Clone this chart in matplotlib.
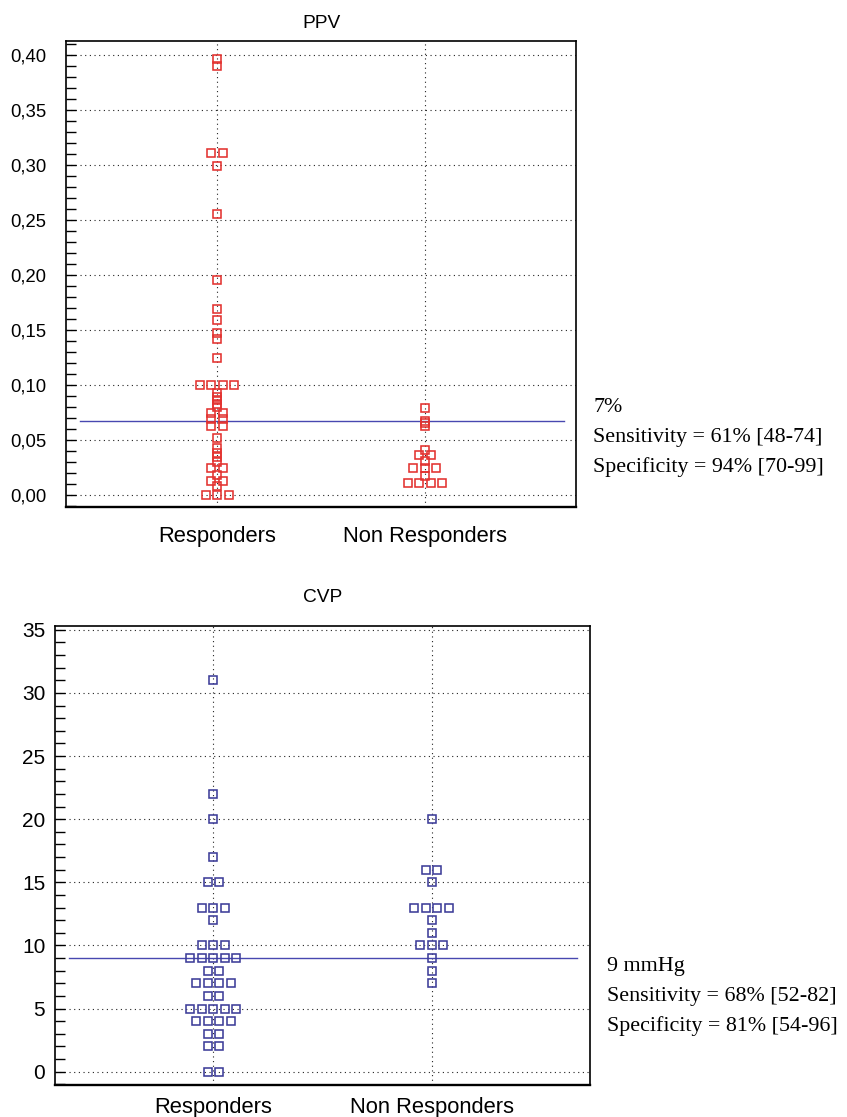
import matplotlib
matplotlib.use("Agg")
import matplotlib.pyplot as plt
from matplotlib.ticker import MultipleLocator, FixedLocator, FixedFormatter
from collections import Counter

# ---------------- data ----------------
groups = ["Responders", "Non Responders"]

ppv_resp = [0.396, 0.390, 0.311, 0.311, 0.299, 0.255, 0.195, 0.169, 0.159,
            0.147, 0.142, 0.124, 0.100, 0.100, 0.100, 0.100, 0.093, 0.089,
            0.086, 0.083, 0.080, 0.074, 0.074, 0.069, 0.069, 0.063, 0.063,
            0.052, 0.043, 0.038, 0.034, 0.030, 0.024, 0.024, 0.018, 0.013,
            0.013, 0.008, 0.000, 0.000, 0.000]
ppv_nonresp = [0.079, 0.067, 0.065, 0.063, 0.041, 0.036, 0.036, 0.031,
               0.024, 0.024, 0.024, 0.017, 0.011, 0.011, 0.011, 0.011]
ppv_cutoff = 0.067
ppv_ticks = [0.00, 0.05, 0.10, 0.15, 0.20, 0.25, 0.30, 0.35, 0.40]
ppv_tick_labels = ["0,00", "0,05", "0,10", "0,15", "0,20", "0,25", "0,30", "0,35", "0,40"]
ppv_text = ["7%", "Sensitivity = 61% [48-74]", "Specificity = 94% [70-99]"]

cvp_resp = [0, 0, 2, 2, 3, 3, 4, 4, 4, 4, 5, 5, 5, 5, 5, 6, 6, 7, 7, 7, 7,
            8, 8, 9, 9, 9, 9, 9, 10, 10, 10, 12, 13, 13, 13, 15, 15, 17, 20, 22, 31]
cvp_nonresp = [7, 8, 9, 10, 10, 10, 11, 12, 13, 13, 13, 13, 15, 16, 16, 20]
cvp_cutoff = 9
cvp_ticks = [0, 5, 10, 15, 20, 25, 30, 35]
cvp_tick_labels = ["0", "5", "10", "15", "20", "25", "30", "35"]
cvp_text = ["9 mmHg", "Sensitivity = 68% [52-82]", "Specificity = 81% [54-96]"]

# ---------------- figure ----------------
W, H = 847, 1117
fig = plt.figure(figsize=(W / 100, H / 100), dpi=100)
plt.rcParams['font.family'] = ['Liberation Sans', 'DejaVu Sans']

def rect(l, r, t, b):
    return [l / W, 1 - b / H, (r - l) / W, (b - t) / H]

XLIM = (0.273, 2.727)
SPACING_PX = 11.5


def swarm(vals, center, ax_width_px):
    per_px = (XLIM[1] - XLIM[0]) / ax_width_px
    cnt = Counter(vals)
    xs, ys = [], []
    for v, n in cnt.items():
        for i in range(n):
            xs.append(center + (i - (n - 1) / 2) * SPACING_PX * per_px)
            ys.append(v)
    return xs, ys


def panel(r, title, resp, nonresp, cutoff, ylim, ticks, tlabels, minor,
          color, text, text_x, text_y0, ylab_size, ylab_pad, xlab_pad, title_pad):
    ax = fig.add_axes(rect(*r))
    wpx = r[1] - r[0]
    for k, data in enumerate([resp, nonresp]):
        xs, ys = swarm(data, k + 1, wpx)
        ax.plot(xs, ys, linestyle='none', marker='s', markersize=6.4,
                markerfacecolor='none', markeredgecolor=color, markeredgewidth=1.15,
                zorder=3)
    ax.axhline(cutoff, xmin=0.027, xmax=0.976, color='#4848b0', lw=1.0, zorder=2)
    ax.set_xlim(*XLIM)
    ax.set_ylim(*ylim)
    ax.xaxis.set_major_locator(FixedLocator([1, 2]))
    ax.xaxis.set_major_formatter(FixedFormatter(groups))
    ax.yaxis.set_major_locator(FixedLocator(ticks))
    ax.yaxis.set_major_formatter(FixedFormatter(tlabels))
    ax.yaxis.set_minor_locator(MultipleLocator(minor))
    ax.tick_params(axis='y', which='both', direction='in', length=7, width=1,
                   labelsize=ylab_size, pad=ylab_pad)
    ax.tick_params(axis='x', length=0, labelsize=15.8, pad=xlab_pad)
    ax.grid(True, which='major', color='#222222', linestyle=(0, (1, 3.2)), lw=0.8)
    for s in ax.spines.values():
        s.set_linewidth(1.2)
        s.set_color('black')
    ax.spines['bottom'].set_linewidth(1.7)
    ax.set_title(title, fontsize=13.8, pad=title_pad)
    for i, t in enumerate(text):
        fig.text(text_x / W, 1 - (text_y0 + i * 29.5) / H, t,
                 fontsize=15.8, family=['Liberation Serif', 'DejaVu Serif'],
                 va='center', ha='left')
    return ax


panel((66, 576, 41, 507), "PPV", ppv_resp, ppv_nonresp, ppv_cutoff,
      (-0.0110, 0.4125), ppv_ticks, ppv_tick_labels, 0.01,
      '#e3322f', ppv_text, 593, 408, 13.3, 14, 13.5, 9)
panel((55, 590, 626, 1085), "CVP", cvp_resp, cvp_nonresp, cvp_cutoff,
      (-1.05, 35.3), cvp_ticks, cvp_tick_labels, 1,
      '#3d3d99', cvp_text, 607, 967, 15, 7, 9, 17)

fig.savefig("out.png", dpi=100)
